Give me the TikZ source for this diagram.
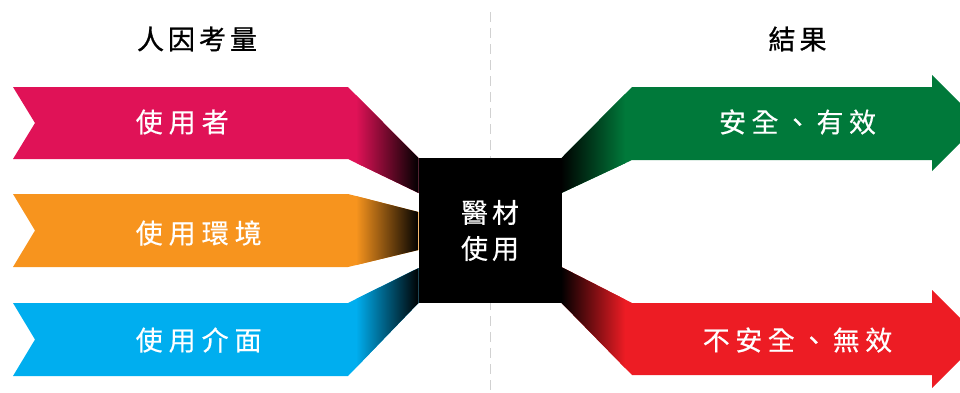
\documentclass[tikz,border=0pt]{standalone}
\usepackage{fontspec}
\newfontfamily\cjk[FakeBold=0.4]{Noto Sans CJK TC}
\newfontfamily\cjktitle[FakeBold=0.9]{Noto Sans CJK TC}
\definecolor{pinkc}{HTML}{E01257}
\definecolor{orangec}{HTML}{F7941E}
\definecolor{bluec}{HTML}{00AEEF}
\definecolor{greenc}{HTML}{00793A}
\definecolor{redc}{HTML}{ED1C24}
\def\pinkpath{(13,87) -- (348,87) -- (418.5,158) -- (418.5,193) -- (348,159) -- (13,159) -- (35,123) -- cycle}
\def\orangepath{(13,194) -- (348,194) -- (418.5,212) -- (418.5,250) -- (348,267) -- (13,267) -- (35,230.5) -- cycle}
\def\bluepath{(13,303) -- (348,303) -- (418.5,268) -- (418.5,303) -- (348,376) -- (13,376) -- (35,339.5) -- cycle}
\def\greenpath{(561.5,158) -- (632,87) -- (932,87) -- (932,75) -- (980,123) -- (932,171) -- (932,160) -- (632,160) -- (561.5,193) -- cycle}
\def\redpath{(561.5,267) -- (632,303) -- (932,303) -- (932,290) -- (981,339) -- (932,388) -- (932,375) -- (632,375) -- (561.5,303) -- cycle}
\tikzset{
  title/.style={font=\cjktitle\fontsize{27}{32}\selectfont, text=black, inner sep=0pt},
  ribbontext/.style={font=\cjk\fontsize{27}{32}\selectfont, text=white, inner sep=0pt},
  centerbox/.style={fill=black, minimum width=143pt, minimum height=145pt, inner sep=0pt},
  boxtext/.style={font=\cjk\fontsize{27}{36}\selectfont, text=white, align=center, inner sep=0pt},
  divider/.style={draw=black!18, line width=1.3pt, dash pattern=on 10pt off 6pt}
}
\begin{document}
\begin{tikzpicture}[x=1pt,y=-1pt]
\useasboundingbox (0,0) rectangle (960,392);
\clip (0,0) rectangle (960,392);
% divider
\coordinate (dtop) at (490.5,12);
\coordinate (dbot) at (490.5,392);
\draw[divider] (dtop) -- (dbot);
% titles
\node[title] (t1) at (197,39) {人\kern4pt 因\kern4pt 考\kern4pt 量};
\node[title] (t2) at (797.5,39) {結\kern4pt 果};
% left ribbons
\begin{scope}
  \clip \pinkpath;
  \fill[pinkc] (0,80) rectangle (420,200);
  \shade[left color=pinkc, middle color=pinkc!45!black, right color=black] (356,80) rectangle (419,200);
\end{scope}
\begin{scope}
  \clip \orangepath;
  \fill[orangec] (0,190) rectangle (420,270);
  \shade[left color=orangec, middle color=orangec!45!black, right color=black] (356,190) rectangle (419,270);
\end{scope}
\begin{scope}
  \clip \bluepath;
  \fill[bluec] (0,260) rectangle (420,380);
  \shade[left color=bluec, middle color=bluec!45!black, right color=black] (356,260) rectangle (419,380);
\end{scope}
% right arrows
\begin{scope}
  \clip \greenpath;
  \fill[greenc] (560,70) rectangle (990,200);
  \shade[left color=black, middle color=greenc!50!black, right color=greenc] (561,70) rectangle (625,200);
\end{scope}
\begin{scope}
  \clip \redpath;
  \fill[redc] (560,260) rectangle (990,392);
  \shade[left color=black, middle color=redc!50!black, right color=redc] (561,260) rectangle (625,392);
\end{scope}
% center box
\node[centerbox] (box) at (490,230.5) {};
\node[boxtext] (boxlabel) at (box.center) {醫\kern4pt 材\\使\kern4pt 用};
% ribbon labels
\node[ribbontext, anchor=west] (l1) at (135.5,122) {使\kern6pt 用\kern6pt 者};
\node[ribbontext, anchor=west] (l2) at (135.5,233) {使\kern6pt 用\kern6pt 環\kern6pt 境};
\node[ribbontext, anchor=west] (l3) at (135.5,340) {使\kern6pt 用\kern6pt 介\kern6pt 面};
\node[ribbontext] (r1) at (797.5,122) {安\kern5.5pt 全\kern5.5pt 、\kern5.5pt 有\kern5.5pt 效};
\node[ribbontext] (r2) at (797.5,340) {不\kern5.5pt 安\kern5.5pt 全\kern5.5pt 、\kern5.5pt 無\kern5.5pt 效};
\end{tikzpicture}
\end{document}
